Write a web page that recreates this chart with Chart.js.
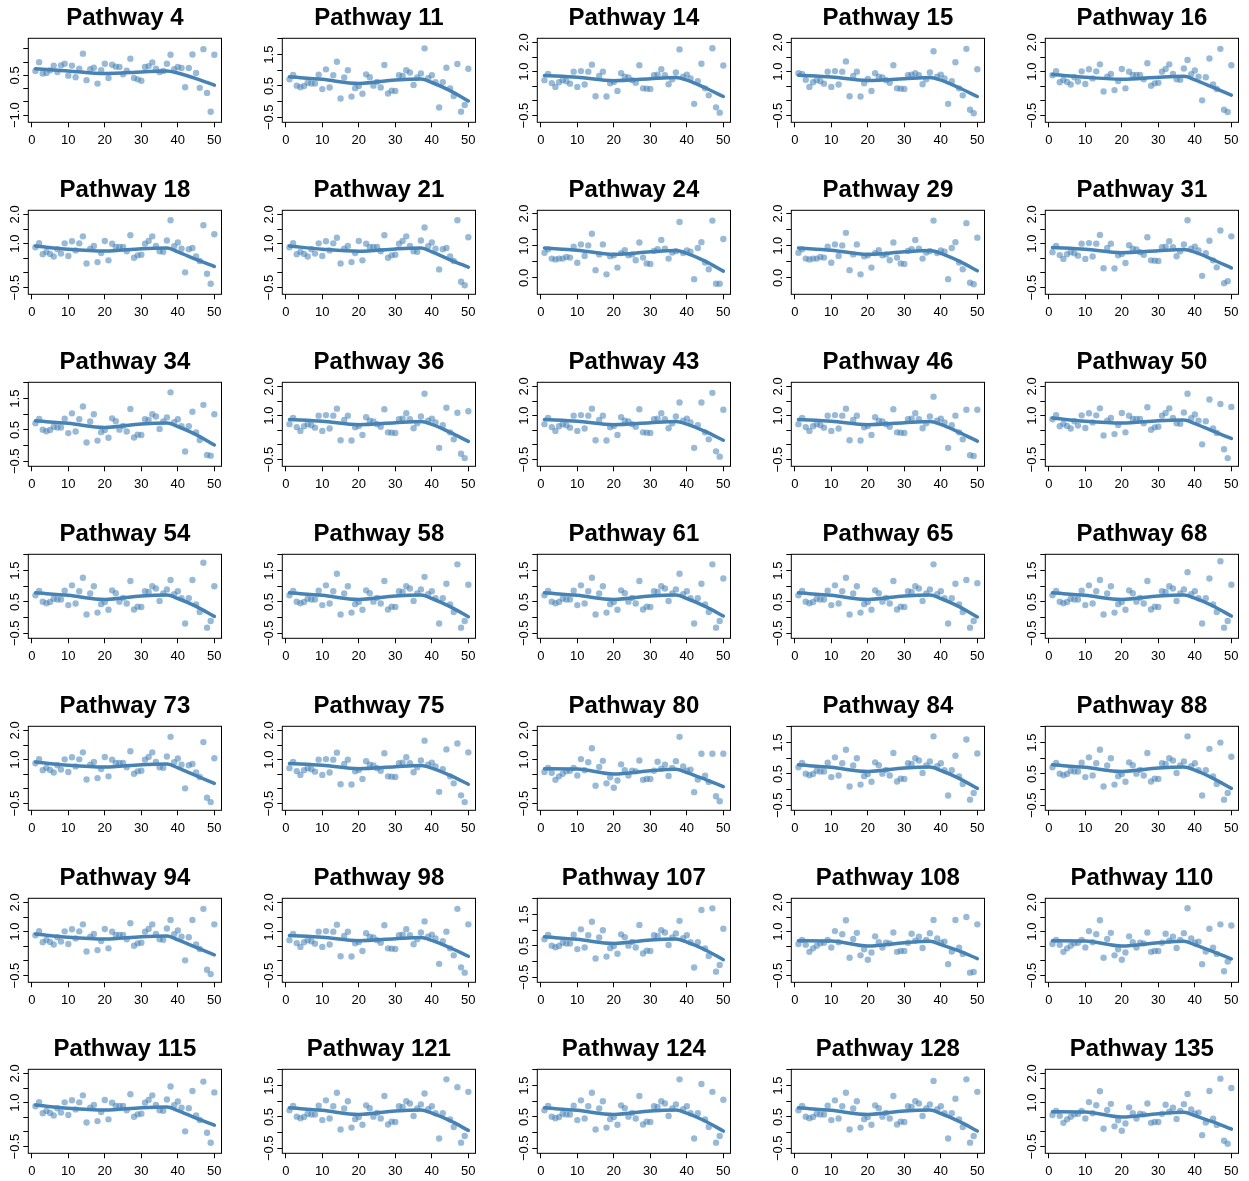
<!DOCTYPE html>
<html>
<head>
<meta charset="utf-8">
<title>Pathway trends</title>
<script src="https://cdn.jsdelivr.net/npm/chart.js"></script>
<style>
  html, body { margin: 0; padding: 0; background: #fff; overflow: hidden; width: 1249px; height: 1181px; }
  #grid { position: relative; width: 1249px; height: 1181px; }
  .panel { position: absolute; width: 236px; height: 172px; }
  .panel canvas { display: block; }
</style>
</head>
<body>
<div id="grid"></div>
<script>
// ---- panel titles and axis kinds (grid order, 5 per row) ----
const pathwayIds = [4, 11, 14, 15, 16, 18, 21, 24, 29, 31, 34, 36, 43, 46, 50, 54, 58, 61, 65, 68,
                    73, 75, 80, 84, 88, 94, 98, 107, 108, 110, 115, 121, 124, 128, 135];
const axisKinds = ['D','B','A','A','A', 'A','A','C','C','A', 'B','A','A','A','A', 'B','B','B','B','B',
                   'A','A','A','B','B', 'A','A','B','A','A', 'A','B','B','B','A'];

// ---- x axis ----
const xTicks = [0, 10, 20, 30, 40, 50];
const xLim = [-0.96, 51.96];
const fitX = [1, 10, 20, 30, 37, 40, 45, 50];

// ---- y axes ----
const yTicksA = [-0.5, 0, 0.5, 1, 1.5, 2], yLabelsA = [-0.5, 1, 2], yLimA = [-0.73, 2.14];
const yTicksB = [-0.5, 0, 0.5, 1, 1.5, 2], yLabelsB = [-0.5, 0.5, 1.5], yLimB = [-0.66, 2.02];
const yTicksC = [0, 0.5, 1, 1.5, 2], yLabelsC = [0, 1, 2], yLimC = [-0.51, 2.10];
const yTicksD = [-1, -0.5, 0, 0.5, 1, 1.5], yLabelsD = [-1, 0.5], yLimD = [-1.27, 1.90];

// ---- observed values, positions 1..50 ----
const v4 = [0.67,1.00,0.57,0.59,0.69,0.87,0.63,0.88,0.94,0.49,0.87,0.43,0.75,1.32,0.32,0.73,0.79,0.19,0.70,0.94,0.40,0.90,0.83,0.82,0.54,0.68,1.13,0.40,0.35,0.30,0.82,0.85,0.99,0.75,0.63,0.67,0.94,1.28,0.73,0.82,0.78,0.05,0.78,1.29,0.59,0.03,1.49,-0.16,-0.87,1.28];
const v11 = [0.71,0.85,0.51,0.46,0.50,0.60,0.58,0.58,0.86,0.40,1.03,0.45,0.84,1.27,0.10,0.77,1.00,0.16,0.43,0.50,0.25,0.87,0.78,0.51,0.63,0.45,1.17,0.26,0.35,0.34,0.84,0.82,1.00,0.93,0.53,0.77,0.90,1.70,0.75,0.84,0.62,-0.19,0.62,1.08,0.42,0.18,1.20,-0.32,-0.11,1.05];
const v14 = [0.71,0.92,0.61,0.48,0.64,0.71,0.67,0.59,1.00,0.48,1.02,0.56,1.00,1.24,0.16,0.85,1.00,0.15,0.60,0.65,0.34,0.95,0.83,0.80,0.71,0.62,1.22,0.43,0.42,0.41,0.88,0.90,1.08,0.88,0.57,0.74,0.97,1.76,0.83,0.90,0.77,-0.10,0.67,1.27,0.43,0.19,1.80,-0.22,-0.40,1.21];
const v15 = [0.95,0.92,0.72,0.48,0.64,0.71,0.67,0.59,1.00,0.48,1.02,0.56,1.00,1.35,0.16,0.85,1.00,0.15,0.60,0.75,0.34,0.95,0.83,0.80,0.71,0.62,1.22,0.43,0.42,0.41,0.88,0.90,0.95,0.88,0.57,0.74,0.97,1.70,0.83,0.90,0.77,-0.10,0.67,1.32,0.43,0.19,1.78,-0.30,-0.42,1.08];
const v16 = [0.88,1.02,0.64,0.72,0.65,0.56,0.81,0.66,1.01,0.58,1.08,0.77,1.01,1.25,0.32,0.83,0.92,0.37,0.68,1.09,0.43,1.00,0.89,0.89,0.89,0.74,1.29,0.52,0.60,0.62,1.00,1.09,1.25,0.92,0.74,0.72,1.11,1.40,0.91,1.04,0.83,0.02,0.81,1.45,0.56,0.41,1.78,-0.30,-0.38,1.22];
const v18 = [0.88,1.02,0.64,0.72,0.65,0.56,0.81,0.66,1.01,0.58,1.08,0.77,1.01,1.25,0.32,0.83,0.92,0.37,0.68,1.09,0.43,1.00,0.89,0.89,0.89,0.74,1.29,0.52,0.60,0.62,1.00,1.09,1.25,0.92,0.74,0.72,1.11,1.80,0.91,1.04,0.83,0.02,0.81,0.85,0.56,0.41,1.63,-0.03,-0.37,1.32];
const v21 = [0.88,1.02,0.64,0.72,0.65,0.56,0.81,0.66,1.01,0.58,1.08,0.77,1.01,1.20,0.32,0.83,0.92,0.37,0.68,1.09,0.43,1.00,0.89,0.89,0.89,0.74,1.29,0.52,0.60,0.62,1.00,1.09,1.25,0.92,0.74,0.72,1.11,1.55,0.91,1.04,0.83,0.12,0.81,0.85,0.56,0.41,1.80,-0.30,-0.42,1.22];
const v24 = [0.78,0.89,0.60,0.57,0.60,0.60,0.65,0.63,0.97,0.47,1.04,0.68,1.01,1.37,0.24,0.73,1.04,0.11,0.67,0.70,0.32,0.77,0.86,0.70,0.73,0.55,1.10,0.63,0.45,0.43,0.84,0.89,1.18,0.91,0.60,0.79,0.83,1.74,0.77,0.85,0.81,-0.04,0.93,1.11,0.48,0.27,1.78,-0.18,-0.18,1.21];
const v29 = [0.78,0.89,0.60,0.57,0.60,0.60,0.65,0.63,0.97,0.47,1.04,0.68,1.01,1.40,0.24,0.73,1.04,0.11,0.67,0.70,0.32,0.77,0.86,0.70,0.73,0.55,1.10,0.63,0.45,0.43,0.84,0.89,1.18,0.91,0.60,0.79,0.83,1.78,0.77,0.85,0.81,-0.04,0.93,1.11,0.48,0.27,1.70,-0.15,-0.20,1.25];
const v31 = [0.71,0.92,0.61,0.48,0.64,0.71,0.67,0.59,1.00,0.48,1.02,0.56,1.00,1.30,0.16,0.85,1.00,0.15,0.60,0.65,0.34,0.95,0.83,0.80,0.71,0.62,1.22,0.43,0.42,0.41,0.88,0.90,1.08,0.88,0.57,0.74,0.97,1.80,0.83,0.90,0.77,-0.10,0.67,1.10,0.43,0.19,1.45,-0.35,-0.28,1.25];
const v34 = [0.71,0.85,0.51,0.46,0.50,0.60,0.58,0.58,0.86,0.40,1.03,0.45,0.84,1.25,0.10,0.77,1.00,0.16,0.43,0.50,0.25,0.87,0.78,0.51,0.63,0.45,1.17,0.26,0.35,0.34,0.84,0.82,1.00,0.93,0.53,0.77,0.90,1.70,0.75,0.84,0.62,-0.19,0.62,1.08,0.42,0.18,1.30,-0.30,-0.32,1.00];
const v36 = [0.71,0.92,0.61,0.48,0.64,0.71,0.67,0.59,1.00,0.48,1.02,0.56,1.00,1.24,0.16,0.85,1.00,0.15,0.60,0.65,0.34,0.95,0.83,0.80,0.71,0.62,1.22,0.43,0.42,0.41,0.88,0.90,1.08,0.88,0.57,0.74,0.97,1.75,0.83,0.90,0.77,-0.10,0.67,1.27,0.43,0.19,1.10,-0.30,-0.45,1.15];
const v43 = [0.71,0.92,0.61,0.48,0.64,0.71,0.67,0.59,1.00,0.48,1.02,0.56,1.00,1.24,0.16,0.85,1.00,0.15,0.60,0.65,0.34,0.95,0.83,0.80,0.71,0.62,1.22,0.43,0.42,0.41,0.88,0.90,1.08,0.88,0.57,0.74,0.97,1.45,0.83,0.90,0.77,-0.10,0.67,1.45,0.43,0.19,1.78,-0.22,-0.40,1.20];
const v46 = [0.71,0.92,0.61,0.48,0.64,0.71,0.67,0.59,1.00,0.48,1.02,0.56,1.00,1.24,0.16,0.85,1.00,0.15,0.60,0.65,0.34,0.95,0.83,0.80,0.71,0.62,1.22,0.43,0.42,0.41,0.88,0.90,1.08,0.88,0.57,0.74,0.97,1.65,0.83,0.90,0.77,-0.10,0.67,1.00,0.43,0.19,1.20,-0.35,-0.38,1.20];
const v50 = [0.88,1.02,0.64,0.72,0.65,0.56,0.81,0.66,1.01,0.58,1.08,0.77,1.01,1.25,0.32,0.83,0.92,0.37,0.68,1.09,0.43,1.00,0.89,0.89,0.89,0.74,1.29,0.52,0.60,0.62,1.00,1.09,1.25,0.92,0.74,0.72,1.11,1.75,0.91,1.04,0.83,0.02,0.81,1.55,0.56,0.41,1.40,-0.15,-0.45,1.30];
const v54 = [0.71,0.85,0.51,0.46,0.50,0.60,0.58,0.58,0.86,0.40,1.03,0.45,0.84,1.27,0.10,0.77,1.00,0.16,0.43,0.50,0.25,0.87,0.78,0.51,0.63,0.45,1.17,0.26,0.35,0.34,0.84,0.82,1.00,0.93,0.53,0.77,0.90,1.20,0.75,0.84,0.62,-0.19,0.62,1.20,0.42,0.18,1.75,-0.32,-0.11,1.00];
const v58 = [0.71,0.85,0.51,0.46,0.50,0.60,0.58,0.58,0.86,0.40,1.03,0.45,0.84,1.40,0.10,0.77,1.00,0.16,0.43,0.50,0.25,0.87,0.78,0.51,0.63,0.45,1.17,0.26,0.35,0.34,0.84,0.82,1.00,0.93,0.53,0.77,0.90,1.30,0.75,0.84,0.62,-0.19,0.62,1.08,0.42,0.18,1.70,-0.32,-0.11,1.05];
const v61 = [0.71,0.85,0.51,0.46,0.50,0.60,0.58,0.58,0.86,0.40,1.03,0.45,0.84,1.27,0.10,0.77,1.00,0.16,0.43,0.50,0.25,0.87,0.78,0.51,0.63,0.45,1.17,0.26,0.35,0.34,0.84,0.82,1.00,0.93,0.53,0.77,0.90,1.40,0.75,0.84,0.62,-0.19,0.62,1.08,0.42,0.18,1.70,-0.32,-0.11,1.25];
const v65 = [0.71,0.85,0.51,0.46,0.50,0.60,0.58,0.58,0.86,0.40,1.03,0.45,0.84,1.27,0.10,0.77,1.00,0.16,0.43,0.50,0.25,0.87,0.78,0.51,0.63,0.45,1.17,0.26,0.35,0.34,0.84,0.82,1.00,0.93,0.53,0.77,0.90,1.70,0.75,0.84,0.62,-0.19,0.62,1.08,0.42,0.18,1.20,-0.32,-0.11,1.10];
const v68 = [0.71,0.85,0.51,0.46,0.50,0.60,0.58,0.58,0.86,0.40,1.03,0.45,0.84,1.20,0.10,0.77,1.00,0.16,0.43,0.50,0.25,0.87,0.78,0.51,0.63,0.45,1.17,0.26,0.35,0.34,0.84,0.82,1.00,0.93,0.53,0.77,0.90,1.45,0.75,0.84,0.62,-0.19,0.62,1.25,0.42,0.18,1.80,-0.32,-0.11,1.05];
const v73 = [0.88,1.02,0.64,0.72,0.65,0.56,0.81,0.66,1.01,0.58,1.08,0.77,1.01,1.25,0.32,0.83,0.92,0.37,0.68,1.09,0.43,1.00,0.89,0.89,0.89,0.74,1.29,0.52,0.60,0.62,1.00,1.09,1.25,0.92,0.74,0.72,1.11,1.78,0.91,1.04,0.83,0.02,0.81,0.85,0.56,0.41,1.60,-0.30,-0.45,1.05];
const v75 = [0.71,0.92,0.61,0.48,0.64,0.71,0.67,0.59,1.00,0.48,1.02,0.56,1.00,1.24,0.16,0.85,1.00,0.15,0.60,0.65,0.34,0.95,0.83,0.80,0.71,0.62,1.22,0.43,0.42,0.41,0.88,0.90,1.08,0.88,0.57,0.74,0.97,1.65,0.83,0.90,0.77,-0.10,0.67,1.35,0.43,0.19,1.55,-0.22,-0.45,1.25];
const v80 = [0.58,0.72,0.55,0.31,0.43,0.52,0.60,0.62,0.72,0.46,1.02,0.64,0.91,1.39,0.11,0.75,0.96,0.19,0.40,0.04,0.29,0.84,0.64,0.46,0.62,0.60,0.97,0.31,0.34,0.34,0.62,0.93,0.69,0.83,0.44,0.72,0.95,1.78,0.77,0.62,0.66,-0.11,0.32,1.20,0.45,0.24,1.20,-0.25,-0.42,1.20];
const v84 = [0.71,0.85,0.51,0.46,0.50,0.60,0.58,0.58,0.86,0.40,1.03,0.45,0.84,1.27,0.10,0.77,1.00,0.16,0.43,0.50,0.25,0.87,0.78,0.51,0.63,0.45,1.17,0.26,0.35,0.34,0.84,0.82,1.00,0.93,0.53,0.77,0.90,1.70,0.75,0.84,0.62,-0.19,0.62,1.08,0.42,0.18,1.60,-0.32,-0.11,1.15];
const v88 = [0.71,0.85,0.51,0.46,0.50,0.60,0.58,0.58,0.86,0.40,1.03,0.45,0.84,1.27,0.10,0.77,1.00,0.16,0.43,0.50,0.25,0.87,0.78,0.51,0.63,0.45,1.17,0.26,0.35,0.34,0.84,0.82,1.00,0.93,0.53,0.77,0.90,1.70,0.75,0.84,0.62,-0.19,0.62,1.30,0.42,0.18,1.50,-0.32,-0.11,1.05];
const v94 = [0.88,1.02,0.64,0.72,0.65,0.56,0.81,0.66,1.01,0.58,1.08,0.77,1.01,1.25,0.32,0.83,0.92,0.37,0.68,1.09,0.43,1.00,0.89,0.89,0.89,0.74,1.29,0.52,0.60,0.62,1.00,1.09,1.25,0.92,0.74,0.72,1.11,1.40,0.91,1.04,0.83,0.02,0.81,1.40,0.56,0.41,1.78,-0.30,-0.45,1.25];
const v98 = [0.71,0.92,0.61,0.48,0.64,0.71,0.67,0.59,1.00,0.48,1.02,0.56,1.00,1.24,0.16,0.85,1.00,0.15,0.60,0.65,0.34,0.95,0.83,0.80,0.71,0.62,1.22,0.43,0.42,0.41,0.88,0.90,1.08,0.88,0.57,0.74,0.97,1.35,0.83,0.90,0.77,-0.10,0.67,1.00,0.43,0.19,1.78,-0.22,-0.40,1.25];
const v107 = [0.71,0.85,0.51,0.46,0.50,0.60,0.58,0.58,0.86,0.40,1.03,0.45,0.84,1.27,0.10,0.77,1.00,0.16,0.43,0.50,0.25,0.87,0.78,0.51,0.63,0.45,1.17,0.26,0.35,0.34,0.84,0.82,1.00,0.93,0.53,0.77,0.90,1.30,0.75,0.84,0.62,-0.19,0.62,1.65,0.42,0.18,1.70,-0.32,-0.11,1.05];
const v108 = [0.58,0.72,0.55,0.31,0.43,0.52,0.60,0.62,0.72,0.46,1.02,0.64,0.91,1.39,0.11,0.75,0.96,0.19,0.40,0.04,0.29,0.84,0.64,0.46,0.62,0.60,0.97,0.31,0.34,0.34,0.62,0.93,0.69,0.83,0.44,0.72,0.95,1.40,0.77,0.62,0.66,-0.11,0.32,1.40,0.45,0.24,1.50,-0.40,-0.38,1.25];
const v110 = [0.58,0.72,0.55,0.31,0.43,0.52,0.60,0.62,0.72,0.46,1.02,0.64,0.91,1.39,0.11,0.75,0.96,0.19,0.40,0.04,0.29,0.84,0.64,0.46,0.62,0.60,0.97,0.31,0.34,0.34,0.62,0.93,0.69,0.83,0.44,0.72,0.95,1.80,0.77,0.62,0.66,-0.11,0.32,1.10,0.45,0.24,1.25,-0.35,-0.02,1.21];
const v115 = [0.88,1.02,0.64,0.72,0.65,0.56,0.81,0.66,1.01,0.58,1.08,0.77,1.01,1.25,0.32,0.83,0.92,0.37,0.68,1.09,0.43,1.00,0.89,0.89,0.89,0.74,1.29,0.52,0.60,0.62,1.00,1.09,1.25,0.92,0.74,0.72,1.11,1.55,0.91,1.04,0.83,0.02,0.81,1.40,0.56,0.41,1.72,-0.03,-0.37,1.35];
const v121 = [0.71,0.85,0.51,0.46,0.50,0.60,0.58,0.58,0.86,0.40,1.03,0.45,0.84,1.27,0.10,0.77,1.00,0.16,0.43,0.50,0.25,0.87,0.78,0.51,0.63,0.45,1.17,0.26,0.35,0.34,0.84,0.82,1.00,0.93,0.53,0.77,0.90,1.25,0.75,0.84,0.62,-0.19,0.62,1.70,0.42,0.18,1.45,-0.32,-0.11,1.30];
const v124 = [0.71,0.85,0.51,0.46,0.50,0.60,0.58,0.58,0.86,0.40,1.03,0.45,0.84,1.27,0.10,0.77,1.00,0.16,0.43,0.50,0.25,0.87,0.78,0.51,0.63,0.45,1.17,0.26,0.35,0.34,0.84,0.82,1.00,0.93,0.53,0.77,0.90,1.70,0.75,0.84,0.62,-0.19,0.62,1.55,0.42,0.18,1.30,-0.32,-0.11,1.05];
const v128 = [0.71,0.85,0.51,0.46,0.50,0.60,0.58,0.58,0.86,0.40,1.03,0.45,0.84,1.27,0.10,0.77,1.00,0.16,0.43,0.50,0.25,0.87,0.78,0.51,0.63,0.45,1.17,0.26,0.35,0.34,0.84,0.82,1.00,0.93,0.53,0.77,0.90,1.65,0.75,0.84,0.62,-0.19,0.62,1.08,0.42,0.18,1.70,-0.32,-0.11,1.30];
const v135 = [0.58,0.72,0.55,0.31,0.43,0.52,0.60,0.62,0.72,0.46,1.02,0.64,0.91,1.39,0.11,0.75,0.96,0.19,0.40,0.04,0.29,0.84,0.64,0.46,0.62,0.60,0.97,0.31,0.34,0.34,0.62,0.93,0.69,0.83,0.44,0.72,0.95,1.30,0.77,0.62,0.66,-0.11,0.32,1.40,0.45,0.24,1.82,-0.30,-0.40,1.50];

// ---- smoothed trend, sampled at fitX ----
const f4 = [0.75,0.67,0.57,0.63,0.67,0.59,0.38,0.13];
const f11 = [0.79,0.71,0.58,0.69,0.72,0.61,0.35,0.02];
const f14 = [0.87,0.81,0.69,0.76,0.80,0.71,0.45,0.15];
const f15 = [0.88,0.82,0.70,0.76,0.80,0.71,0.45,0.15];
const f16 = [0.90,0.81,0.74,0.81,0.84,0.72,0.46,0.20];
const f18 = [0.92,0.81,0.75,0.83,0.85,0.72,0.46,0.22];
const f21 = [0.92,0.81,0.74,0.82,0.85,0.72,0.45,0.20];
const f24 = [0.93,0.86,0.73,0.81,0.85,0.76,0.52,0.21];
const f29 = [0.93,0.86,0.73,0.81,0.85,0.76,0.52,0.22];
const f31 = [0.87,0.81,0.69,0.76,0.80,0.71,0.45,0.17];
const f34 = [0.79,0.71,0.58,0.69,0.72,0.61,0.35,0.02];
const f36 = [0.87,0.81,0.69,0.76,0.80,0.70,0.43,0.12];
const f43 = [0.87,0.81,0.69,0.76,0.80,0.71,0.46,0.16];
const f46 = [0.87,0.81,0.69,0.76,0.80,0.70,0.43,0.13];
const f50 = [0.92,0.81,0.75,0.83,0.85,0.73,0.47,0.22];
const f54 = [0.79,0.71,0.58,0.69,0.72,0.61,0.36,0.04];
const f58 = [0.79,0.71,0.58,0.69,0.72,0.61,0.35,0.03];
const f61 = [0.79,0.71,0.58,0.69,0.72,0.61,0.36,0.05];
const f65 = [0.79,0.71,0.58,0.69,0.72,0.61,0.35,0.02];
const f68 = [0.79,0.71,0.58,0.69,0.72,0.62,0.37,0.05];
const f73 = [0.92,0.81,0.75,0.83,0.85,0.72,0.45,0.19];
const f75 = [0.87,0.81,0.69,0.76,0.80,0.71,0.46,0.16];
const f80 = [0.69,0.68,0.51,0.62,0.67,0.56,0.33,0.08];
const f84 = [0.79,0.71,0.58,0.69,0.72,0.61,0.36,0.04];
const f88 = [0.79,0.71,0.58,0.69,0.72,0.62,0.36,0.04];
const f94 = [0.92,0.81,0.75,0.83,0.85,0.72,0.46,0.21];
const f98 = [0.87,0.81,0.69,0.76,0.80,0.70,0.45,0.16];
const f107 = [0.79,0.71,0.58,0.69,0.72,0.62,0.38,0.06];
const f108 = [0.69,0.68,0.51,0.62,0.67,0.56,0.34,0.08];
const f110 = [0.69,0.68,0.51,0.62,0.67,0.55,0.32,0.07];
const f115 = [0.92,0.81,0.75,0.83,0.85,0.73,0.47,0.23];
const f121 = [0.79,0.71,0.58,0.69,0.72,0.62,0.38,0.07];
const f124 = [0.79,0.71,0.58,0.69,0.72,0.62,0.37,0.05];
const f128 = [0.79,0.71,0.58,0.69,0.72,0.61,0.36,0.05];
const f135 = [0.69,0.68,0.51,0.62,0.67,0.56,0.34,0.10];

const seriesById = {
  4: [v4, f4], 11: [v11, f11], 14: [v14, f14], 15: [v15, f15], 16: [v16, f16],
  18: [v18, f18], 21: [v21, f21], 24: [v24, f24], 29: [v29, f29], 31: [v31, f31],
  34: [v34, f34], 36: [v36, f36], 43: [v43, f43], 46: [v46, f46], 50: [v50, f50],
  54: [v54, f54], 58: [v58, f58], 61: [v61, f61], 65: [v65, f65], 68: [v68, f68],
  73: [v73, f73], 75: [v75, f75], 80: [v80, f80], 84: [v84, f84], 88: [v88, f88],
  94: [v94, f94], 98: [v98, f98], 107: [v107, f107], 108: [v108, f108], 110: [v110, f110],
  115: [v115, f115], 121: [v121, f121], 124: [v124, f124], 128: [v128, f128], 135: [v135, f135]
};
const axisByKind = {
  A: [yTicksA, yLabelsA, yLimA], B: [yTicksB, yLabelsB, yLimB],
  C: [yTicksC, yLabelsC, yLimC], D: [yTicksD, yLabelsD, yLimD]
};

// ---- drawing ----
const FONT = '"Liberation Sans", Arial, Helvetica, sans-serif';
const CANVAS_W = 236, CANVAS_H = 172;
const COL_STEP = 254.35, ROW_STEP = 171.9;
const AREA = { left: 28.3, right: 221.5, top: 38.3, bottom: 122.3 };
const POINT_FILL = 'rgba(70,130,180,0.55)';
const LINE_COLOR = '#4682b4';

const fmt = v => v.toFixed(1).replace('-', '\u2212');

// frame, title and rotated y-axis labels
const panelText = {
  id: 'panelText',
  afterDraw(chart, args, opts) {
    const { ctx, chartArea: a } = chart;
    const ys = chart.scales.y;
    ctx.save();
    ctx.strokeStyle = '#000';
    ctx.lineWidth = 1;
    ctx.strokeRect(a.left, a.top, a.right - a.left, a.bottom - a.top);
    ctx.fillStyle = '#000';
    ctx.font = 'bold 24px ' + FONT;
    ctx.textAlign = 'center';
    ctx.textBaseline = 'alphabetic';
    ctx.fillText(opts.title, (a.left + a.right) / 2, 24.5);
    ctx.font = '13px ' + FONT;
    opts.labels.forEach(v => {
      const y = ys.getPixelForValue(v);
      ctx.save();
      ctx.translate(a.left - 9.4, y);
      ctx.rotate(-Math.PI / 2);
      ctx.fillText(fmt(v), 0, 0);
      ctx.restore();
    });
    ctx.restore();
  }
};

const grid = document.getElementById('grid');
pathwayIds.forEach((id, i) => {
  const r = Math.floor(i / 5), c = i % 5;
  const [values, fit] = seriesById[id];
  const [yTicks, yLabels, yLim] = axisByKind[axisKinds[i]];

  const holder = document.createElement('div');
  holder.className = 'panel';
  holder.style.left = Math.round(c * COL_STEP) + 'px';
  holder.style.top = Math.round(r * ROW_STEP) + 'px';
  const cv = document.createElement('canvas');
  cv.width = CANVAS_W;
  cv.height = CANVAS_H;
  holder.appendChild(cv);
  grid.appendChild(holder);

  const tickGrid = { display: true, drawOnChartArea: false, drawTicks: true, tickLength: 5, color: '#000', lineWidth: 1 };

  new Chart(cv, {
    type: 'scatter',
    data: {
      datasets: [
        {
          type: 'line',
          data: fitX.map((x, k) => ({ x, y: fit[k] })),
          borderColor: LINE_COLOR,
          borderWidth: 3.5,
          borderCapStyle: 'round',
          borderJoinStyle: 'round',
          pointRadius: 0,
          cubicInterpolationMode: 'monotone',
          fill: false,
          order: 0
        },
        {
          type: 'scatter',
          data: values.map((y, k) => ({ x: k + 1, y })),
          pointBackgroundColor: POINT_FILL,
          pointBorderWidth: 0,
          pointRadius: 3.2,
          showLine: false,
          order: 1
        }
      ]
    },
    options: {
      responsive: false,
      animation: false,
      events: [],
      layout: { padding: { top: AREA.top, right: CANVAS_W - AREA.right, left: 0, bottom: 0 } },
      plugins: {
        legend: { display: false },
        tooltip: { enabled: false },
        title: { display: false },
        panelText: { title: 'Pathway ' + id, labels: yLabels }
      },
      scales: {
        x: {
          type: 'linear',
          position: 'bottom',
          min: xLim[0],
          max: xLim[1],
          afterBuildTicks: s => { s.ticks = xTicks.map(v => ({ value: v })); },
          afterFit: s => { s.height = CANVAS_H - AREA.bottom; },
          grid: tickGrid,
          border: { display: false },
          ticks: { color: '#000', font: { family: FONT, size: 13 }, padding: 5, maxRotation: 0, minRotation: 0, autoSkip: false }
        },
        y: {
          type: 'linear',
          position: 'left',
          min: yLim[0],
          max: yLim[1],
          afterBuildTicks: s => { s.ticks = yTicks.map(v => ({ value: v })); },
          afterFit: s => { s.width = AREA.left; },
          grid: tickGrid,
          border: { display: false },
          ticks: { display: false }
        }
      }
    },
    plugins: [panelText]
  });
});
</script>
</body>
</html>
